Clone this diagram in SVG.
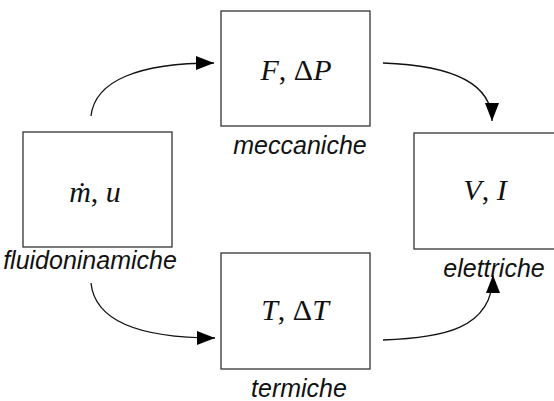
<svg xmlns="http://www.w3.org/2000/svg" width="554" height="401" viewBox="0 0 554 401">
  <style>
    .box { fill: #fff; stroke: #333; stroke-width: 1.3; }
    .math { font-family: "Liberation Serif", "DejaVu Serif", serif; font-size: 30px; fill: #111; text-anchor: middle; }
    .math .v { font-style: italic; }
    .cap { font-family: "Liberation Sans", Arial, sans-serif; font-style: italic; font-size: 25px; fill: #111; text-anchor: middle; }
    .flow { fill: none; stroke: #111; stroke-width: 1.3; marker-end: url(#head); }
  </style>
  <defs>
    <marker id="head" markerUnits="userSpaceOnUse" markerWidth="20" markerHeight="16" refX="18" refY="7" orient="auto">
      <path d="M0,0 L18,7 L0,14 Z" fill="#000"/>
    </marker>
  </defs>

  <rect width="554" height="401" fill="#fff"/>

  <g id="connectors">
    <path class="flow" d="M91,116 C95,80 140,63 214,63"/>
    <path class="flow" d="M383,63 C440,65 492,78 492,121"/>
    <path class="flow" d="M91,283 C95,322 140,338 215,338"/>
    <path class="flow" d="M383,340 C440,338 493,330 493,275"/>
  </g>

  <g id="fluidodinamiche">
    <rect class="box" x="23" y="132" width="149" height="115"/>
    <text class="math" x="95" y="202"><tspan class="v">ṁ</tspan>, <tspan class="v">u</tspan></text>
    <text class="cap" x="90" y="269">fluidoninamiche</text>
  </g>

  <g id="meccaniche">
    <rect class="box" x="221" y="11" width="149" height="115"/>
    <text class="math" x="296" y="80"><tspan class="v">F</tspan>, Δ<tspan class="v">P</tspan></text>
    <text class="cap" x="300" y="154">meccaniche</text>
  </g>

  <g id="termiche">
    <rect class="box" x="221" y="253" width="149" height="116"/>
    <text class="math" x="295" y="320"><tspan class="v">T</tspan>, Δ<tspan class="v">T</tspan></text>
    <text class="cap" x="299" y="397">termiche</text>
  </g>

  <g id="elettriche">
    <rect class="box" x="414" y="133" width="149" height="116"/>
    <text class="math" x="485" y="200"><tspan class="v">V</tspan>, <tspan class="v">I</tspan></text>
    <text class="cap" x="494" y="277">elettriche</text>
  </g>
</svg>
